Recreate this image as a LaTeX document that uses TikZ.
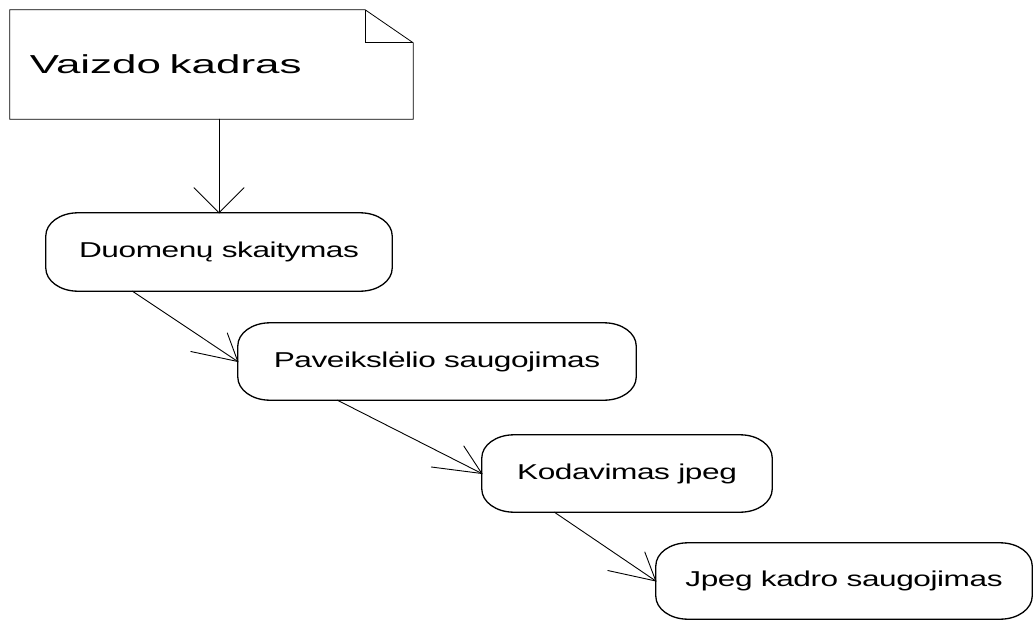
\documentclass[tikz,border=0pt]{standalone}
\usepackage{fontspec}
\setmainfont{Liberation Sans}
\newfontfamily\notefont[FakeStretch=1.69]{Liberation Sans}
\newfontfamily\actfont[FakeStretch=1.47,LetterSpace=-2]{Liberation Sans}
\usetikzlibrary{calc}

% outline of an activity state: straight sides with elliptical corners
\newcommand{\actoutline}[1]{%
  \draw[actline] ([xshift=32pt]#1.north west) -- ([xshift=-32pt]#1.north east)
    arc[start angle=90, end angle=0, x radius=32pt, y radius=23pt]
    -- ([yshift=23pt]#1.south east)
    arc[start angle=0, end angle=-90, x radius=32pt, y radius=23pt]
    -- ([xshift=32pt]#1.south west)
    arc[start angle=270, end angle=180, x radius=32pt, y radius=23pt]
    -- ([yshift=-23pt]#1.north west)
    arc[start angle=180, end angle=90, x radius=32pt, y radius=23pt]
    -- cycle;}

\tikzset{
  act/.style={draw=none, inner sep=0pt, align=center,
    font=\actfont\fontsize{21.5}{25}\selectfont},
  actline/.style={line width=1.3pt, black},
  notebox/.style={draw=none, inner xsep=20pt, inner ysep=0pt,
    minimum width=403pt, minimum height=109pt, text width=363pt, align=left,
    font=\notefont\fontsize{26}{30}\selectfont},
  noteline/.style={line width=0.8pt, black},
  flow/.style={line width=0.9pt, black, line cap=round, line join=miter},
}

\begin{document}
\begin{tikzpicture}[x=1pt, y=-1pt]
  \useasboundingbox (0,0) rectangle (1034,621);

  % object node with a folded corner
  \node[notebox] (note) at (211.5,64.5) {Vaizdo kadras};
  \draw[noteline] (note.north west) -- ([xshift=-48pt]note.north east)
    -- ([yshift=-33pt]note.north east) -- (note.south east)
    -- (note.south west) -- cycle;
  \draw[noteline] ([xshift=-48pt]note.north east) |- ([yshift=-33pt]note.north east);

  % activity states
  \node[act, minimum width=346pt, minimum height=78pt] (b1) at (219,252) {Duomenų skaitymas};
  \node[act, minimum width=398pt, minimum height=77pt] (b2) at (437,361.5) {Paveikslėlio saugojimas};
  \node[act, minimum width=290pt, minimum height=77pt] (b3) at (627,473.5) {Kodavimas jpeg};
  \node[act, minimum width=376pt, minimum height=76pt] (b4) at (844,581) {Jpeg kadro saugojimas};
  \actoutline{b1}
  \actoutline{b2}
  \actoutline{b3}
  \actoutline{b4}

  % transitions with open barb heads
  \draw[flow] (b1.north |- note.south) -- (b1.north);
  \draw[flow] ($(b1.north)+(-25,-25)$) -- (b1.north) -- ($(b1.north)+(25,-25)$);

  \draw[flow] ($(b1.south west)!0.25!(b1.south east)$) -- (b2.west);
  \draw[flow] ($(b2.west)+(-10.5,-28.5)$) -- (b2.west) -- ($(b2.west)+(-47,-10)$);

  \draw[flow] ($(b2.south west)!0.25!(b2.south east)$) -- (b3.west);
  \draw[flow] ($(b3.west)+(-18,-27.5)$) -- (b3.west) -- ($(b3.west)+(-50.5,-6.5)$);

  \draw[flow] ($(b3.south west)!0.25!(b3.south east)$) -- (b4.west);
  \draw[flow] ($(b4.west)+(-11,-29)$) -- (b4.west) -- ($(b4.west)+(-48,-10.5)$);
\end{tikzpicture}
\end{document}
